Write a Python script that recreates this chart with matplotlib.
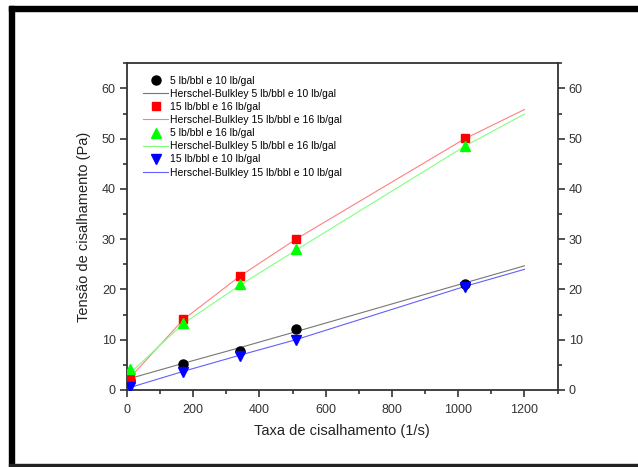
import matplotlib
matplotlib.use("Agg")
import matplotlib.pyplot as plt
from matplotlib.patches import Rectangle
from matplotlib.ticker import MultipleLocator

plt.rcParams['font.family'] = ['Liberation Sans', 'DejaVu Sans']

# Measured data
shear = [10, 170, 340, 510, 1020]
s5_10 = [2.0, 5.2, 7.8, 12.1, 21.0]
s15_16 = [2.2, 14.2, 22.6, 30.1, 50.1]
s5_16 = [4.1, 13.3, 21.0, 28.0, 48.5]
s15_10 = [0.6, 3.6, 6.8, 9.9, 20.5]

# Herschel-Bulkley fit curves
fit_x = [10, 170, 340, 510, 1020, 1200]
hb5_10 = [2.3, 5.3, 8.4, 11.6, 21.3, 24.7]
hb15_16 = [2.5, 14.0, 22.6, 30.0, 50.0, 55.8]
hb5_16 = [3.4, 13.2, 20.8, 27.8, 48.5, 54.9]
hb15_10 = [0.5, 3.7, 6.9, 10.0, 20.6, 24.0]

labels = ["5 lb/bbl e 10 lb/gal", "Herschel-Bulkley 5 lb/bbl e 10 lb/gal",
          "15 lb/bbl e 16 lb/gal", "Herschel-Bulkley 15 lb/bbl e 16 lb/gal",
          "5 lb/bbl e 16 lb/gal", "Herschel-Bulkley 5 lb/bbl e 16 lb/gal",
          "15 lb/bbl e 10 lb/gal", "Herschel-Bulkley 15 lb/bbl e 10 lb/gal"]

fig = plt.figure(figsize=(6.38, 4.67), dpi=100)
ax = fig.add_axes([0.199, 0.165, 0.675, 0.6995])

ax.plot(shear, s5_10, 'o', color='black', ms=6.5, label=labels[0], zorder=3)
ax.plot(fit_x, hb5_10, '-', color='#777777', lw=0.8, label=labels[1], zorder=2)
ax.plot(shear, s15_16, 's', color='#ff0000', ms=6, label=labels[2], zorder=3)
ax.plot(fit_x, hb15_16, '-', color='#ff8080', lw=0.8, label=labels[3], zorder=2)
ax.plot(shear, s5_16, '^', color='#00ff00', ms=7, label=labels[4], zorder=3)
ax.plot(fit_x, hb5_16, '-', color='#80ff80', lw=0.8, label=labels[5], zorder=2)
ax.plot(shear, s15_10, 'v', color='#0000ff', ms=7, label=labels[6], zorder=3)
ax.plot(fit_x, hb15_10, '-', color='#6060ff', lw=0.8, label=labels[7], zorder=2)

ax.set_xlim(0, 1300)
ax.set_ylim(0, 65)
ax.set_xticks([0, 200, 400, 600, 800, 1000, 1200])
ax.set_yticks([0, 10, 20, 30, 40, 50, 60])
ax.xaxis.set_minor_locator(MultipleLocator(100))
ax.yaxis.set_minor_locator(MultipleLocator(5))

spc = '#333333'
for s in ax.spines.values():
    s.set_color(spc)
    s.set_linewidth(1.3)

ax.tick_params(which='both', direction='out', color=spc, width=1.2,
               left=True, right=True, labelright=True, top=False, bottom=True,
               labelsize=9, labelcolor='#333333')
ax.tick_params(which='major', length=5, pad=3)
ax.tick_params(which='minor', length=3)
ax.tick_params(axis='x', pad=5)

ax.set_xlabel("Taxa de cisalhamento (1/s)", fontsize=10.5, color='#222222', labelpad=6)
ax.set_ylabel("Tensão de cisalhamento (Pa)", fontsize=10.5, color='#222222', labelpad=8)

leg = ax.legend(loc='upper left', bbox_to_anchor=(0.014, 0.994), frameon=False,
                fontsize=7.5, handlelength=2.4, handletextpad=0.2,
                labelspacing=0.3, borderaxespad=0.6, numpoints=1)

# outer frame
fig.patches.append(Rectangle((9/638, 0), 5/638, 1 - 6/467, transform=fig.transFigure,
                             color='black', zorder=10))
fig.patches.append(Rectangle((9/638, 1 - 11/467), 1, 5/467, transform=fig.transFigure,
                             color='black', zorder=10))
fig.patches.append(Rectangle((9/638, 1 - 466/467), 1, 2/467, transform=fig.transFigure,
                             color='#222222', zorder=10))

fig.savefig("out.png", dpi=100)
